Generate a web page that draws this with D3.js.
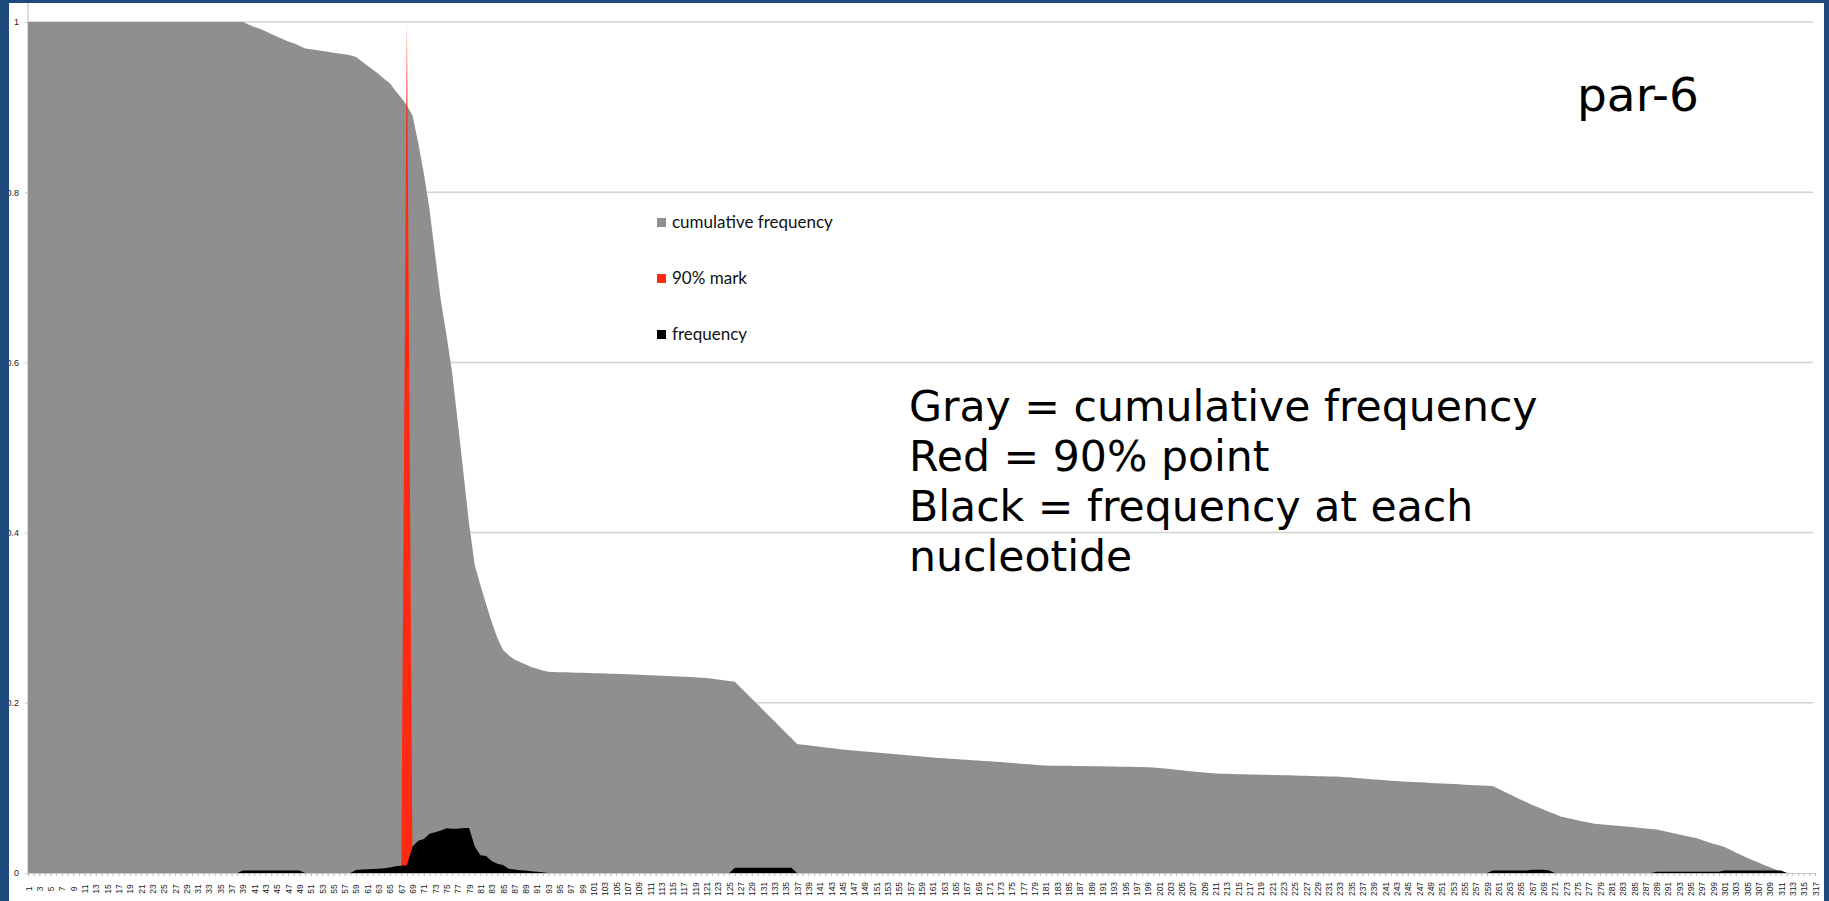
<!DOCTYPE html>
<html>
<head>
<meta charset="utf-8">
<script src="https://cdn.jsdelivr.net/npm/d3@7/dist/d3.min.js"></script>
<style>
  body { margin: 0; background: #ffffff; }
  svg { display: block; }
</style>
</head>
<body>
<svg id="chart" width="1829" height="901"></svg>
<script>
/////////////////////////
// Data
/////////////////////////

// nucleotide positions (category axis)
var positions = d3.range(1, 318);

// cumulative frequency (gray)
var cumFreq = [
  1, 1, 1, 1, 1, 1, 1, 1, 1, 1,
  1, 1, 1, 1, 1, 1, 1, 1, 1, 1,
  1, 1, 1, 1, 1, 1, 1, 1, 1, 1,
  1, 1, 1, 1, 1, 1, 1, 1, 1, .997,
  .994, .992, .989, .986, .983, .980, .977, .975, .972, .969,
  .968, .967, .966, .965, .964, .963, .962, .961, .959, .954,
  .949, .944, .939, .933, .928, .919, .911, .902, .890, .858,
  .822, .780, .726, .673, .632, .588, .530, .470, .410, .362,
  .338, .316, .295, .276, .262, .256, .251, .248, .245, .242,
  .240, .238, .2365, .2362, .2360, .2358, .2356, .2354, .2352, .2350,
  .2348, .2346, .2344, .2342, .2340, .2338, .2335, .2332, .2329, .2326,
  .2323, .2320, .2317, .2314, .2311, .2308, .2305, .2302, .2299, .2295,
  .2290, .2282, .2273, .2264, .2256, .2248, .2181, .2115, .2048, .1982,
  .1915, .1849, .1782, .1716, .1649, .1583, .1516, .1508, .1500, .1492,
  .1484, .1476, .1468, .1460, .1452, .1446, .1440, .1434, .1428, .1422,
  .1416, .1410, .1404, .1398, .1393, .1388, .1382, .1376, .1370, .1364,
  .1358, .1352, .1347, .1343, .1339, .1334, .1330, .1326, .1321, .1317,
  .1312, .1308, .1303, .1298, .1293, .1288, .1282, .1277, .1272, .1267,
  .1262, .1261, .1260, .1260, .1259, .1258, .1257, .1256, .1255, .1254,
  .1253, .1252, .1251, .1250, .1249, .1248, .1247, .1245, .1243, .1241,
  .1234, .1227, .1221, .1214, .1207, .1200, .1193, .1187, .1180, .1174,
  .1169, .1167, .1165, .1163, .1161, .1159, .1157, .1156, .1155, .1154,
  .1153, .1152, .1150, .1148, .1146, .1144, .1142, .1140, .1138, .1136,
  .1135, .1133, .1131, .1126, .1121, .1116, .1111, .1106, .1100, .1095,
  .1090, .1085, .1080, .1075, .1072, .1068, .1065, .1062, .1058, .1055,
  .1052, .1048, .1045, .1042, .1038, .1035, .1032, .1028, .1025, .1022,
  .0990, .0958, .0926, .0894, .0862, .0830, .0800, .0772, .0745, .0718,
  .0692, .0665, .0650, .0635, .0620, .0606, .0592, .0580, .0574, .0568,
  .0561, .0555, .0549, .0543, .0537, .0530, .0524, .0518, .0512, .0497,
  .0483, .0468, .0453, .0438, .0424, .0410, .0387, .0365, .0345, .0325,
  .0305, .0273, .0241, .0210, .0180, .0150, .0122, .0095, .0068, .0042,
  .0017, .0004, 0, 0, 0, 0, 0
];

// 90% mark (red)
var mark90 = [
  0, 0, 0, 0, 0, 0, 0, 0, 0, 0,
  0, 0, 0, 0, 0, 0, 0, 0, 0, 0,
  0, 0, 0, 0, 0, 0, 0, 0, 0, 0,
  0, 0, 0, 0, 0, 0, 0, 0, 0, 0,
  0, 0, 0, 0, 0, 0, 0, 0, 0, 0,
  0, 0, 0, 0, 0, 0, 0, 0, 0, 0,
  0, 0, 0, 0, 0, 0, 0, 1, 0, 0,
  0, 0, 0, 0, 0, 0, 0, 0, 0, 0,
  0, 0, 0, 0, 0, 0, 0, 0, 0, 0,
  0, 0, 0, 0, 0, 0, 0, 0, 0, 0,
  0, 0, 0, 0, 0, 0, 0, 0, 0, 0,
  0, 0, 0, 0, 0, 0, 0, 0, 0, 0,
  0, 0, 0, 0, 0, 0, 0, 0, 0, 0,
  0, 0, 0, 0, 0, 0, 0, 0, 0, 0,
  0, 0, 0, 0, 0, 0, 0, 0, 0, 0,
  0, 0, 0, 0, 0, 0, 0, 0, 0, 0,
  0, 0, 0, 0, 0, 0, 0, 0, 0, 0,
  0, 0, 0, 0, 0, 0, 0, 0, 0, 0,
  0, 0, 0, 0, 0, 0, 0, 0, 0, 0,
  0, 0, 0, 0, 0, 0, 0, 0, 0, 0,
  0, 0, 0, 0, 0, 0, 0, 0, 0, 0,
  0, 0, 0, 0, 0, 0, 0, 0, 0, 0,
  0, 0, 0, 0, 0, 0, 0, 0, 0, 0,
  0, 0, 0, 0, 0, 0, 0, 0, 0, 0,
  0, 0, 0, 0, 0, 0, 0, 0, 0, 0,
  0, 0, 0, 0, 0, 0, 0, 0, 0, 0,
  0, 0, 0, 0, 0, 0, 0, 0, 0, 0,
  0, 0, 0, 0, 0, 0, 0, 0, 0, 0,
  0, 0, 0, 0, 0, 0, 0, 0, 0, 0,
  0, 0, 0, 0, 0, 0, 0, 0, 0, 0,
  0, 0, 0, 0, 0, 0, 0, 0, 0, 0,
  0, 0, 0, 0, 0, 0, 0
];

// frequency at each nucleotide (black)
var freq = [
  0, 0, 0, 0, 0, 0, 0, 0, 0, 0,
  0, 0, 0, 0, 0, 0, 0, 0, 0, 0,
  0, 0, 0, 0, 0, 0, 0, 0, 0, 0,
  0, 0, 0, 0, 0, 0, 0, 0, .0028, .0028,
  .0028, .0028, .0028, .0028, .0028, .0028, .0028, .0028, .0028, 0,
  0, 0, 0, 0, 0, 0, 0, 0, .0035, .004,
  .0043, .0046, .005, .0055, .0065, .008, .0086, .009, .031, .038,
  .040, .046, .048, .050, .0525, .052, .052, .053, .053, .031,
  .021, .020, .014, .011, .0095, .005, .004, .0032, .003, .002,
  .0015, .0008, 0, 0, 0, 0, 0, 0, 0, 0,
  0, 0, 0, 0, 0, 0, 0, 0, 0, 0,
  0, 0, 0, 0, 0, 0, 0, 0, 0, 0,
  0, 0, 0, 0, 0, .0063, .0063, .0063, .0063, .0063,
  .0063, .0063, .0063, .0063, .0063, .0063, 0, 0, 0, 0,
  0, 0, 0, 0, 0, 0, 0, 0, 0, 0,
  0, 0, 0, 0, 0, 0, 0, 0, 0, 0,
  0, 0, 0, 0, 0, 0, 0, 0, 0, 0,
  0, 0, 0, 0, 0, 0, 0, 0, 0, 0,
  0, 0, 0, 0, 0, 0, 0, 0, 0, 0,
  0, 0, 0, 0, 0, 0, 0, 0, 0, 0,
  0, 0, 0, 0, 0, 0, 0, 0, 0, 0,
  0, 0, 0, 0, 0, 0, 0, 0, 0, 0,
  0, 0, 0, 0, 0, 0, 0, 0, 0, 0,
  0, 0, 0, 0, 0, 0, 0, 0, 0, 0,
  0, 0, 0, 0, 0, 0, 0, 0, 0, 0,
  0, 0, 0, 0, 0, 0, 0, 0, 0, .003,
  .003, .003, .003, .003, .003, .003, .0038, .0038, .0038, .003,
  0, 0, 0, 0, 0, 0, 0, 0, 0, 0,
  0, 0, 0, 0, 0, 0, 0, 0, .0015, .0015,
  .0015, .0015, .0015, .0015, .0015, .0015, .0015, .0015, .0015, .0015,
  .003, .003, .003, .003, .003, .003, .003, .003, .003, .003,
  .003, 0, 0, 0, 0, 0, 0
];

var yTicks = [0, 0.2, 0.4, 0.6, 0.8, 1];
var seriesNames = ["cumulative frequency", "90% mark", "frequency"];
var seriesColors = ["#8f8f8f", "#ff2a12", "#000000"];
var noteLines = ["Gray = cumulative frequency", "Red = 90% point", "Black = frequency at each", "nucleotide"];
var chartTitle = "par-6";

/////////////////////////
// Layout
/////////////////////////

var W = 1829, H = 901;
var plotLeft = 28, plotRight = 1815, plotTop = 22, plotBottom = 873;
var frameColor = "#1e497c";

var svg = d3.select("#chart");

svg.append("rect").attr("width", W).attr("height", H).attr("fill", "#ffffff");

var x = d3.scalePoint().domain(positions).range([plotLeft, plotRight]);
var y = d3.scaleLinear().domain([0, 1]).range([plotBottom, plotTop]);

// gridlines
svg.append("g")
  .attr("class", "grid")
  .selectAll("line")
  .data(yTicks.filter(function(d){ return d > 0; }))
  .enter().append("line")
  .attr("x1", plotLeft).attr("x2", plotRight - 2)
  .attr("y1", function(d){ return y(d); })
  .attr("y2", function(d){ return y(d); })
  .attr("stroke", "#d2d2d2")
  .attr("stroke-width", 1.5);

// vertical axis line (runs up past the top gridline)
svg.append("line")
  .attr("x1", plotLeft).attr("x2", plotLeft)
  .attr("y1", 3).attr("y2", plotBottom)
  .attr("stroke", "#d2d2d2")
  .attr("stroke-width", 1.5);

// areas, drawn gray, red, black
var series = [
  { name: seriesNames[0], values: cumFreq, color: seriesColors[0] },
  { name: seriesNames[1], values: mark90, color: seriesColors[1] },
  { name: seriesNames[2], values: freq, color: seriesColors[2] }
];

var area = d3.area()
  .x(function(d){ return x(d.pos); })
  .y0(y(0))
  .y1(function(d){ return y(d.v); });

svg.append("g")
  .attr("class", "areas")
  .selectAll("path")
  .data(series)
  .enter().append("path")
  .attr("fill", function(d){ return d.color; })
  .attr("d", function(d){
    return area(positions.map(function(p, i){ return { pos: p, v: d.values[i] }; }));
  });

// y axis
var yAxis = svg.append("g")
  .attr("transform", "translate(" + plotLeft + ",0)")
  .call(d3.axisLeft(y)
    .tickValues(yTicks)
    .tickSize(3)
    .tickPadding(6)
    .tickFormat(function(d){ return d === 0 ? "0" : d === 1 ? "1" : d3.format(".1f")(d); }));
yAxis.select(".domain").remove();
yAxis.selectAll(".tick line").attr("stroke", "#c8c8c8");
yAxis.selectAll(".tick text")
  .attr("font-family", "Liberation Sans, Arial, sans-serif")
  .attr("font-size", "9px")
  .attr("fill", "#222");

// x axis
var xAxis = svg.append("g")
  .attr("transform", "translate(0," + plotBottom + ")")
  .call(d3.axisBottom(x)
    .tickSize(3)
    .tickFormat(function(d){ return d % 2 === 1 ? d : ""; }));
xAxis.select(".domain").attr("stroke", "#c8c8c8").attr("stroke-width", 1.2);
xAxis.selectAll(".tick line").attr("stroke", "#b8b8b8");
xAxis.selectAll(".tick text")
  .attr("font-family", "Liberation Sans, Arial, sans-serif")
  .attr("font-size", "8.5px")
  .attr("fill", "#1a1a1a")
  .attr("text-anchor", "middle")
  .attr("dominant-baseline", "central")
  .attr("dy", null)
  .attr("y", 0)
  .attr("transform", "translate(0,16) rotate(-90)");

// legend
var legend = svg.append("g")
  .attr("class", "legend")
  .attr("transform", "translate(657,218)")
  .selectAll("g")
  .data(series)
  .enter().append("g")
  .attr("transform", function(d, i){ return "translate(0," + (i * 56) + ")"; });

legend.append("rect")
  .attr("width", 9).attr("height", 9)
  .attr("fill", function(d){ return d.color; });

legend.append("text")
  .attr("x", 15).attr("y", 10)
  .attr("font-family", "Lato, sans-serif")
  .attr("font-size", "17px")
  .attr("fill", "#111")
  .text(function(d){ return d.name; });

// note
svg.append("g")
  .selectAll("text")
  .data(noteLines)
  .enter().append("text")
  .attr("x", 909)
  .attr("y", function(d, i){ return 421 + i * 50; })
  .attr("font-family", "DejaVu Sans, sans-serif")
  .attr("font-size", "42.6px")
  .attr("fill", "#000")
  .text(function(d){ return d; });

// title
svg.append("text")
  .attr("x", 1577).attr("y", 111)
  .attr("font-family", "DejaVu Sans, sans-serif")
  .attr("font-size", "47px")
  .attr("fill", "#000")
  .text(chartTitle);

// frame (left, top, right)
svg.append("rect").attr("x", 0).attr("y", 0).attr("width", 9).attr("height", H).attr("fill", frameColor);
svg.append("rect").attr("x", 0).attr("y", 0).attr("width", W).attr("height", 3).attr("fill", frameColor);
svg.append("rect").attr("x", 1824).attr("y", 0).attr("width", 5).attr("height", H).attr("fill", frameColor);
</script>
</body>
</html>
